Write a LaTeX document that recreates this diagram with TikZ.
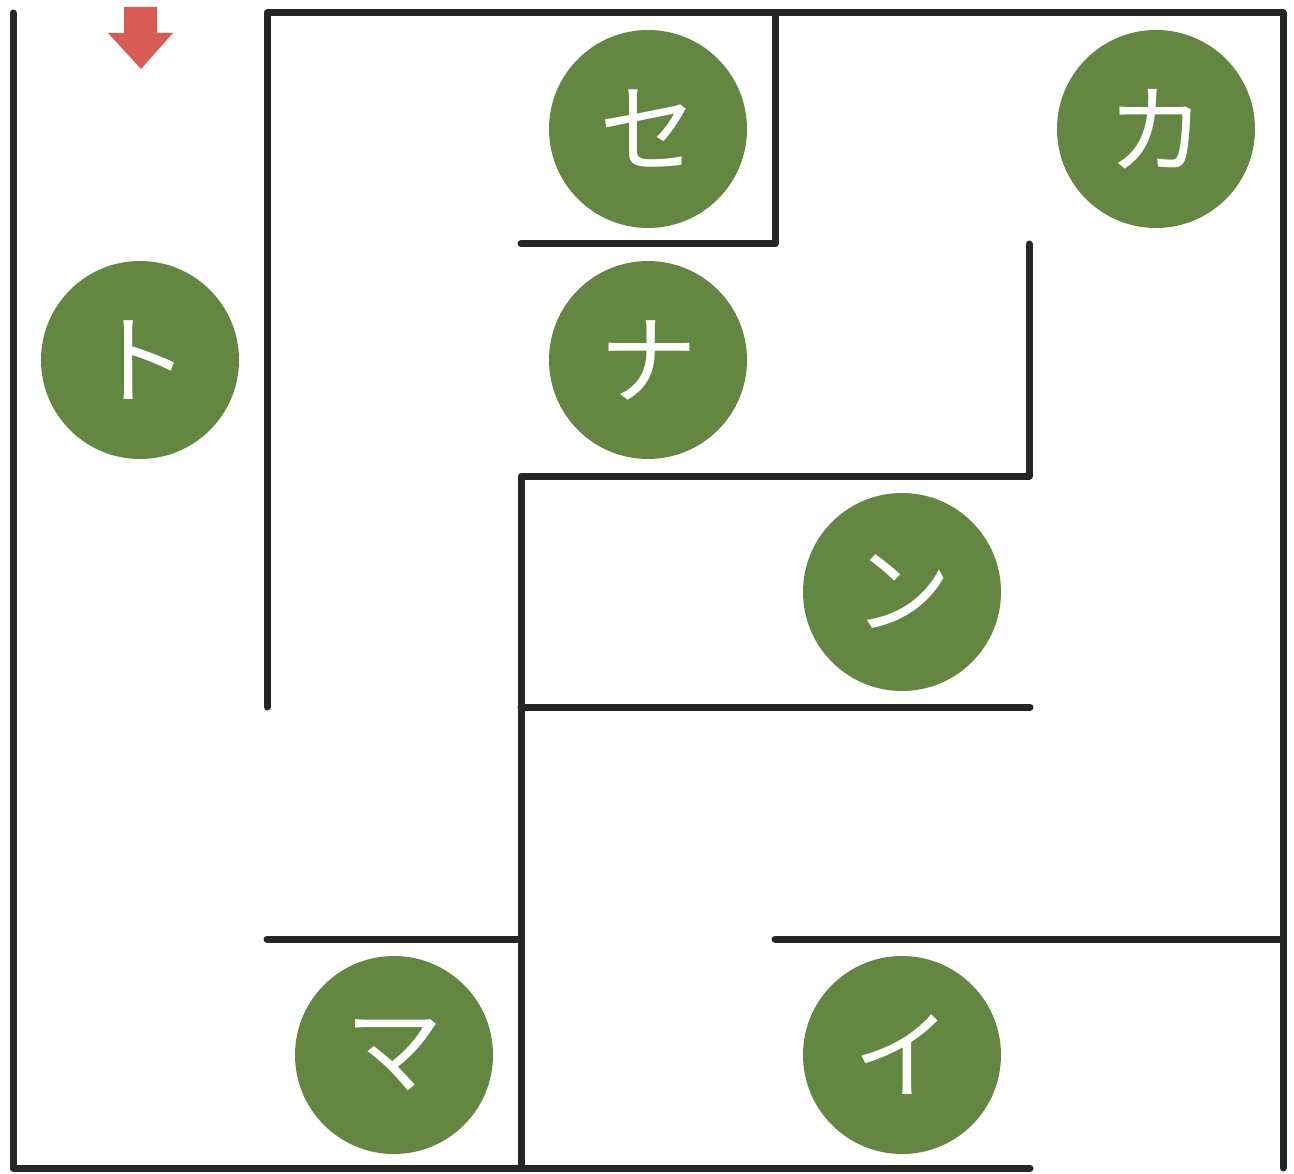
\documentclass[tikz,border=0pt]{standalone}
\usepackage{fontspec}
\newfontfamily\cjk{Noto Sans CJK JP}
\definecolor{wallc}{HTML}{262626}
\definecolor{cellg}{HTML}{638740}
\definecolor{arrowr}{HTML}{D95B55}
\begin{document}
\begin{tikzpicture}[x=1pt,y=-1pt,
  wall/.style={draw=wallc,line width=7pt,line cap=round,line join=round},
  cell/.style={circle,fill=cellg,minimum size=198pt,inner sep=0pt,text=white,font=\cjk\fontsize{98}{98}\selectfont}]
\useasboundingbox (0,0) rectangle (1294,1174);
% walls
\draw[wall] (13,13) -- (13,1168) -- (1030,1168);
\draw[wall] (267,707) -- (267,13) -- (1283,13) -- (1283,1168);
\draw[wall] (775,13) -- (775,244) -- (521,244);
\draw[wall] (1029,244) -- (1029,476) -- (521,476) -- (521,1168);
\draw[wall] (521,707) -- (1030,707);
\draw[wall] (267,939) -- (521,939);
\draw[wall] (775,939) -- (1283,939);
% entrance arrow
\fill[arrowr] (124,7) -- (157,7) -- (157,33) -- (173,33) -- (141,69) -- (108,33) -- (124,33) -- cycle;
% cells
\node[cell] (se) at (648,129) {セ};
\node[cell] (ka) at (1156,129) {カ};
\node[cell] (to) at (140,360) {ト};
\node[cell] (na) at (648,360) {ナ};
\node[cell] (n) at (902,592) {ン};
\node[cell] (ma) at (394,1055) {マ};
\node[cell] (i) at (902,1055) {イ};
\end{tikzpicture}
\end{document}
